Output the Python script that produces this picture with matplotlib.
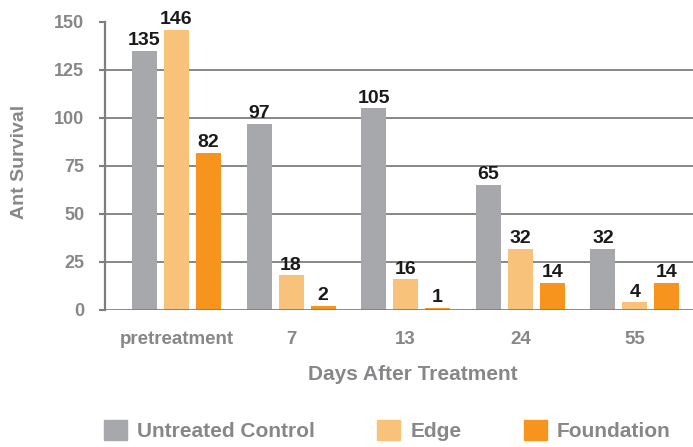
import matplotlib
matplotlib.use("Agg")
import matplotlib.pyplot as plt
import numpy as np
from matplotlib.patches import Patch
from matplotlib import font_manager

categories = ["pretreatment", "7", "13", "24", "55"]
series_names = ["Untreated Control", "Edge", "Foundation"]
control = [135, 97, 105, 65, 32]
edge = [146, 18, 16, 32, 4]
foundation = [82, 2, 1, 14, 14]
y_ticks = [0, 25, 50, 75, 100, 125, 150]

colors = ["#A7A8AB", "#F9C27A", "#F7941D"]
grid_c = "#7E7E81"
text_c = "#87878A"
FONT = "Liberation Sans"
installed = {f.name for f in font_manager.fontManager.ttflist}
NARROW = "Liberation Sans Narrow" if "Liberation Sans Narrow" in installed else FONT

fig = plt.figure(figsize=(6.93, 4.47), dpi=100)
ax = fig.add_axes([105/693, 1-310/447, 1-105/693, (310-22)/447])

x = np.arange(len(categories))
w = 0.218
off = 0.279
for i, (vals, c) in enumerate(zip([control, edge, foundation], colors)):
    pos = x + (i-1)*off
    ax.bar(pos, vals, width=w, color=c, zorder=3)
    for p, v in zip(pos, vals):
        ax.text(p, v + 3, str(v), ha="center", va="baseline", fontsize=14,
                fontweight="bold", color="#1a1a1a", family=FONT, zorder=4,
                clip_on=False)

ax.set_xlim(-0.624, 4.507)
ax.set_ylim(0, 150)
ax.set_yticks(y_ticks)
for t in y_ticks[1:-1]:
    ax.axhline(t, color=grid_c, lw=1.3, zorder=1)
ax.axhline(0, color=grid_c, lw=2, zorder=5)

for s in ["top", "right", "bottom"]:
    ax.spines[s].set_visible(False)
ax.spines["left"].set_color(grid_c)
ax.spines["left"].set_linewidth(1.6)
ax.tick_params(axis="y", length=4, width=1.5, color=grid_c, labelcolor=text_c,
               labelsize=13, pad=11)
ax.tick_params(axis="x", length=0, labelcolor=text_c, labelsize=13.5, pad=15)
ax.set_xticks(x)
ax.set_xticklabels(categories)
for lab in ax.get_xticklabels():
    lab.set_fontweight("bold")
    lab.set_family(FONT)
for lab in ax.get_yticklabels():
    lab.set_fontweight("bold")
    lab.set_family(NARROW)

ax.set_xlabel("Days After Treatment", fontsize=15, fontweight="bold",
              color=text_c, family=FONT)
ax.xaxis.label.set_va("center")
ax.xaxis.set_label_coords((412.5-105)/588, (310-375)/288)
ax.set_ylabel("Ant Survival", fontsize=14, fontweight="bold", color=text_c,
              family=FONT)
ax.yaxis.label.set_va("center")
ax.yaxis.set_label_coords((20-105)/588, (310-162)/288)

handles = [Patch(color=c) for c in colors]
leg = fig.legend(handles, series_names, loc="center left",
                 bbox_to_anchor=(104/693, 1-430.5/447), ncol=3, frameon=False,
                 handlelength=1.1, handleheight=1.1, handletextpad=0.48,
                 columnspacing=3.0, borderpad=0, borderaxespad=0,
                 prop={"family": FONT, "weight": "bold", "size": 15})
for t in leg.get_texts():
    t.set_color(text_c)

fig.savefig("out.png", dpi=100)
